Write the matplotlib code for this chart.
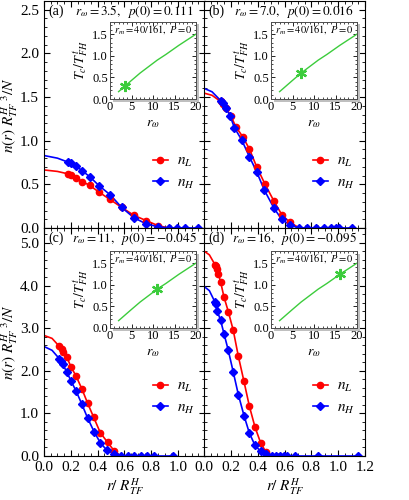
import numpy as np
import matplotlib
matplotlib.use("Agg")
from matplotlib import pyplot as plt
from matplotlib.patches import Rectangle
from matplotlib.ticker import MultipleLocator, FormatStrFormatter

plt.rcParams["font.family"] = ["Liberation Serif", "DejaVu Serif"]
plt.rcParams["mathtext.fontset"] = "stix"

# panel labels
tags = ["(a)", "(b)", "(c)", "(d)"]
r_omega = ["3.5", "7.0", "11", "16"]
p0 = ["0.111", "0.016", "-0.045", "-0.095"]

# (a)  r_omega = 3.5
rL_a = [0.182, 0.200, 0.240, 0.285, 0.340, 0.408, 0.490, 0.578, 0.670, 0.763, 0.850]
nL_a = [0.619, 0.608, 0.577, 0.531, 0.489, 0.413, 0.329, 0.237, 0.145, 0.084, 0.027]
rH_a = [0.182, 0.200, 0.235, 0.283, 0.340, 0.410, 0.495, 0.578, 0.670, 0.763, 0.850,
        0.928, 0.988, 1.053, 1.145]
nH_a = [0.753, 0.741, 0.715, 0.657, 0.589, 0.485, 0.378, 0.237, 0.118, 0.046, 0.015,
        0.0, 0.0, 0.0, 0.0]
headL_a = ([0.0, 0.1], [0.665, 0.648])
headH_a = ([0.0, 0.1], [0.830, 0.800])
tailL_a = ([0.93], [0.0])

# (b)  r_omega = 7.0
rL_b = [0.124, 0.144, 0.164, 0.199, 0.236, 0.288, 0.338, 0.392, 0.455, 0.522, 0.581, 0.641]
nL_b = [1.449, 1.422, 1.372, 1.288, 1.162, 1.047, 0.906, 0.703, 0.501, 0.306, 0.149, 0.065]
rH_b = [0.124, 0.139, 0.164, 0.194, 0.226, 0.281, 0.338, 0.392, 0.449, 0.522, 0.579, 0.641,
        0.708, 0.770, 0.832, 0.894, 0.944, 0.981, 1.006, 1.105]
nH_b = [1.460, 1.437, 1.372, 1.288, 1.150, 1.009, 0.818, 0.646, 0.436, 0.226, 0.100, 0.034,
        0.0, 0.0, 0.0, 0.0, 0.0, 0.0, 0.0, 0.0]
headL_b = ([0.0, 0.06], [1.545, 1.52])
headH_b = ([0.0, 0.06], [1.600, 1.56])
tailL_b = ([0.71], [0.0])

# (c)  r_omega = 11
rL_c = [0.115, 0.133, 0.145, 0.170, 0.200, 0.240, 0.283, 0.325, 0.370, 0.420, 0.475, 0.525]
nL_c = [2.57, 2.52, 2.44, 2.32, 2.10, 1.87, 1.57, 1.24, 0.91, 0.544, 0.317, 0.113]
rH_c = [0.115, 0.128, 0.140, 0.170, 0.200, 0.240, 0.283, 0.325, 0.375, 0.420, 0.470, 0.525,
        0.575, 0.625, 0.670, 0.720, 0.770, 0.820, 0.965]
nH_c = [2.28, 2.23, 2.15, 1.97, 1.77, 1.52, 1.21, 0.89, 0.56, 0.31, 0.13, 0.05,
        0.0, 0.0, 0.0, 0.0, 0.0, 0.0, 0.0]
headL_c = ([0.0, 0.06], [2.83, 2.76])
headH_c = ([0.0, 0.06], [2.57, 2.48])
tailL_c = ([0.57], [0.0])

# (d)  r_omega = 16
rL_d = [0.082, 0.089, 0.099, 0.107, 0.124, 0.149, 0.181, 0.218, 0.256, 0.298, 0.338, 0.380,
        0.422, 0.462]
nL_d = [4.49, 4.45, 4.39, 4.28, 4.08, 3.73, 3.39, 2.95, 2.34, 1.75, 1.17, 0.68, 0.31, 0.09]
rH_d = [0.082, 0.089, 0.099, 0.124, 0.149, 0.181, 0.218, 0.256, 0.298, 0.338, 0.380, 0.422,
        0.462, 0.505, 0.537, 0.567, 0.596, 0.621, 0.678, 0.852, 1.150]
nH_d = [3.61, 3.56, 3.40, 3.18, 2.87, 2.48, 1.97, 1.44, 0.95, 0.54, 0.25, 0.11,
        0.04, 0.0, 0.0, 0.0, 0.0, 0.0, 0.0, 0.0, 0.0]
headL_d = ([0.0, 0.04], [4.81, 4.72])
headH_d = ([0.0, 0.04], [3.98, 3.88])
tailL_d = ([0.50], [0.0])

# inset: Tc / T_FH^t versus r_omega
rw_curve = [2, 3.5, 5, 7, 9, 11, 13, 16, 18, 20]
tc_curve = [0.17, 0.30, 0.43, 0.60, 0.75, 0.90, 1.03, 1.24, 1.37, 1.50]
rw_star = [3.5, 7.0, 11, 16]
tc_star = [0.30, 0.60, 0.90, 1.25]

panels = [
    (rL_a, nL_a, rH_a, nH_a, headL_a, headH_a, tailL_a),
    (rL_b, nL_b, rH_b, nH_b, headL_b, headH_b, tailL_b),
    (rL_c, nL_c, rH_c, nH_c, headL_c, headH_c, tailL_c),
    (rL_d, nL_d, rH_d, nH_d, headL_d, headH_d, tailL_d),
]

W, H = 409, 500
fig = plt.figure(figsize=(4.09, 5.0), dpi=100)

col_x = [44 / W, 204 / W]
col_w = 161 / W
row_y = [1 - 228 / H, 1 - 456 / H]
row_h = [227 / H, 228 / H]
ylims = [2.6, 5.35]
legend_y = [0.245, 0.257]

inset_x = [110 / W, 271 / W]
inset_w = 86 / W
inset_y = [1 - 99 / H, 1 - 328 / H]
inset_h = 77 / H

red = "#ff0000"
blue = "#0000ff"
green = "#3ccc3c"

for i, (rL, nL, rH, nH, headL, headH, tailL) in enumerate(panels):
    row, col = divmod(i, 2)
    ax = fig.add_axes([col_x[col], row_y[row], col_w, row_h[row]])

    ax.plot(headL[0] + rL + tailL[0], headL[1] + nL + tailL[1], color=red, lw=1.2)
    ax.plot(headH[0] + rH, headH[1] + nH, color=blue, lw=1.2)
    ax.plot(rL, nL, "o", color=red, ms=4.5, ls="none")
    ax.plot(rH, nH, "D", color=blue, ms=3.8, ls="none")
    hL, = ax.plot([], [], "-o", color=red, ms=4.5, lw=1.2)
    hH, = ax.plot([], [], "-D", color=blue, ms=3.8, lw=1.2)
    ax.legend([hL, hH], [r"$n_L$", r"$n_H$"], loc="center left",
              bbox_to_anchor=(0.675, legend_y[row]), frameon=False, fontsize=11,
              handlelength=1.0, handletextpad=0.6, labelspacing=0.45,
              borderpad=0, borderaxespad=0)

    if col == 0:
        ax.set_xticks([0.0, 0.2, 0.4, 0.6, 0.8, 1.0])
    else:
        ax.set_xticks([0.0, 0.2, 0.4, 0.6, 0.8, 1.0, 1.2])
    ax.set_xlim(0, 1.2)
    ax.set_ylim(0, ylims[row])
    ax.xaxis.set_minor_locator(MultipleLocator(0.05))
    if row == 0:
        ax.yaxis.set_major_locator(MultipleLocator(0.5))
        ax.yaxis.set_minor_locator(MultipleLocator(0.1))
    else:
        ax.yaxis.set_major_locator(MultipleLocator(1.0))
        ax.yaxis.set_minor_locator(MultipleLocator(0.2))
    ax.yaxis.set_major_formatter(FormatStrFormatter("%.1f"))
    ax.xaxis.set_major_formatter(FormatStrFormatter("%.1f"))
    ax.tick_params(which="both", direction="in", top=True, right=True, labelsize=11)
    ax.tick_params(which="major", length=4, width=0.8)
    ax.tick_params(which="minor", length=2, width=0.6)
    for s in ax.spines.values():
        s.set_linewidth(0.8)

    if row == 0:
        ax.tick_params(labelbottom=False)
    else:
        ax.set_xlabel(r"$r/\ R^{H}_{TF}$", fontsize=11, labelpad=2)
    if col == 1:
        ax.tick_params(labelleft=False)
    else:
        ax.set_ylabel(r"$n(r)\ {R^{H}_{TF}}^{\ 3}/N$", fontsize=11, labelpad=0)

    ax.text(0.025, 0.955, tags[i], transform=ax.transAxes, fontsize=10,
            ha="left", va="center")
    ax.text(0.56, 0.955, r"$r_\omega = %s,\ \ p(0) = %s$" % (r_omega[i], p0[i]),
            transform=ax.transAxes, fontsize=9.5, ha="center", va="center")

    # inset with a grey drop shadow
    ix, iy = inset_x[col], inset_y[row]
    fig.patches.append(Rectangle((ix + 2.5 / W, iy - 2.5 / H), inset_w, inset_h,
                                 transform=fig.transFigure, facecolor="0.75",
                                 edgecolor="none", zorder=5))
    ins = fig.add_axes([ix, iy, inset_w, inset_h])
    ins.set_zorder(10)
    ins.plot(rw_curve, tc_curve, color=green, lw=1.0)
    ins.plot([rw_star[i]], [tc_star[i]], marker=(6, 2, 0), color=green, ms=8, mew=1.6)
    ins.set_xlim(0, 20)
    ins.set_ylim(0, 1.78)
    ins.xaxis.set_major_locator(MultipleLocator(5))
    ins.xaxis.set_minor_locator(MultipleLocator(1))
    ins.yaxis.set_major_locator(MultipleLocator(0.5))
    ins.yaxis.set_minor_locator(MultipleLocator(0.1))
    ins.yaxis.set_major_formatter(FormatStrFormatter("%.1f"))
    ins.tick_params(which="both", direction="in", top=True, right=True,
                    labelsize=9, pad=1.5)
    ins.tick_params(which="major", length=3, width=0.6)
    ins.tick_params(which="minor", length=1.5, width=0.5)
    for s in ins.spines.values():
        s.set_linewidth(0.7)
        s.set_color("0.3")
    ins.set_xlabel(r"$r_\omega$", fontsize=10, labelpad=3)
    ins.set_ylabel(r"$T_c/T^{\,t}_{FH}$", fontsize=10, labelpad=1)
    ins.text(0.5, 0.9, r"$r_m = 40/161,\ P = 0$", transform=ins.transAxes,
             fontsize=7.5, ha="center", va="center")

fig.savefig("out.png", dpi=100)
